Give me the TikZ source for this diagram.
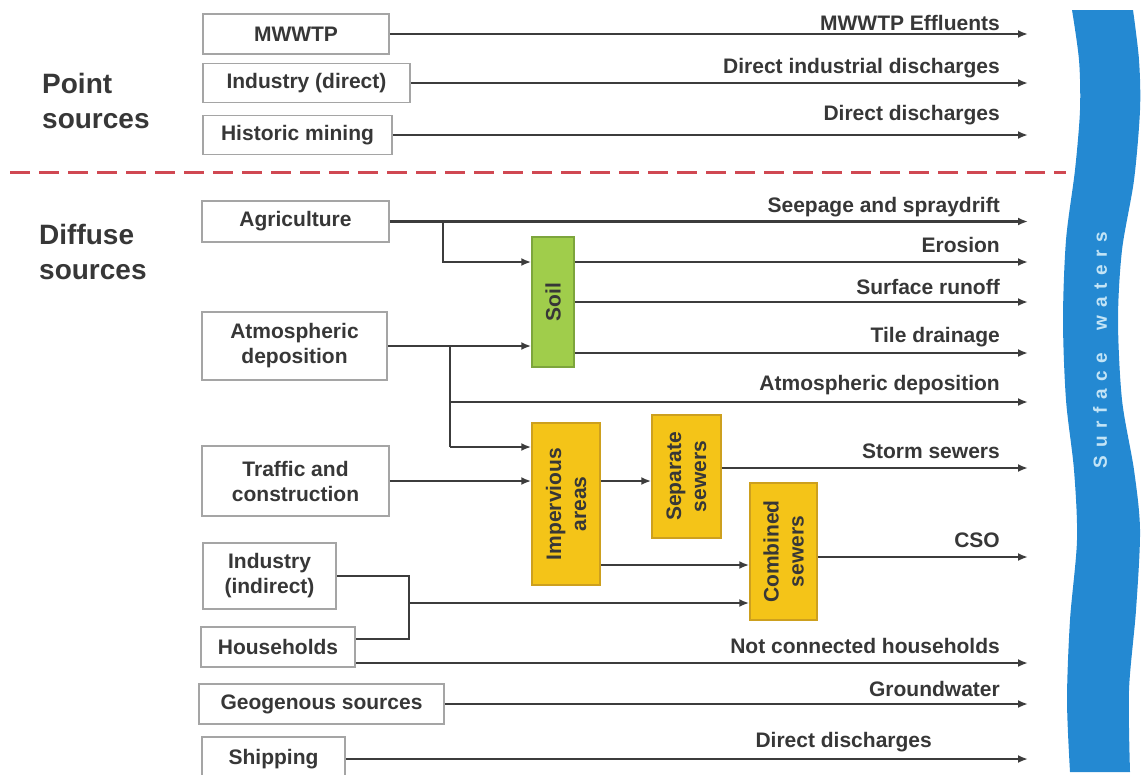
\documentclass[tikz,border=0pt]{standalone}
\usepackage{fontspec}
\setmainfont{Liberation Sans}
\usetikzlibrary{arrows.meta}
\definecolor{txt}{RGB}{55,55,55}
\definecolor{ln}{RGB}{60,60,60}
\definecolor{bx}{RGB}{165,165,165}
\definecolor{soilg}{RGB}{160,205,75}
\definecolor{soilb}{RGB}{125,165,60}
\definecolor{yel}{RGB}{244,196,24}
\definecolor{yelb}{RGB}{205,160,30}
\definecolor{water}{RGB}{36,137,210}
\definecolor{wtxt}{RGB}{195,228,246}
\definecolor{redline}{RGB}{208,72,82}
\begin{document}
\begin{tikzpicture}[x=1pt,y=-1pt,
 every node/.style={text=txt, font=\bfseries\fontsize{21}{25}\selectfont},
 srcbox/.style={draw=bx, line width=1.8pt, fill=white, inner sep=0pt, align=center},
 procbox/.style={draw=#1, line width=1.5pt, inner sep=0pt, align=center, rotate=90},
 conn/.style={draw=ln, line width=2.1pt},
 arr/.style={conn, -{Latex[length=10pt,width=8pt]}},
 lbl/.style={anchor=base east, inner sep=0pt},
 heading/.style={font=\bfseries\fontsize{28}{35}\selectfont, align=left, anchor=west, inner sep=0pt},
]
\useasboundingbox (0,0) rectangle (1147,774);

% surface waters band
\fill[water] plot[smooth] coordinates {(1072,10) (1079,60) (1080,110) (1075,170) (1066,240) (1063,320) (1066,400) (1074,470) (1077,540) (1070,620) (1067,700) (1070,772)}
  -- plot[smooth] coordinates {(1130,772) (1129,690) (1136,610) (1140,530) (1134,470) (1122,400) (1118,320) (1122,250) (1134,180) (1140,110) (1139,60) (1133,10)} -- cycle;
\node[rotate=90, text=wtxt, font=\bfseries\fontsize{19}{21}\selectfont, inner sep=0pt] (sw) at (1100,350)
  {\hbox to 236pt{S\hfill u\hfill r\hfill f\hfill a\hfill c\hfill e\hfill\hfill\hfill w\hfill a\hfill t\hfill e\hfill r\hfill s}};

% headings
\node[heading] (ps) at (42,101) {Point\\sources};
\node[heading] (ds) at (39,252) {Diffuse\\sources};

% dashed separator
\draw[redline, line width=3pt, dash pattern=on 20pt off 9pt] (10,172) -- (1066,172);

% source boxes
\node[srcbox, minimum width=186pt, minimum height=40pt] (mwwtp) at (296,34) {MWWTP};
\node[srcbox, minimum width=207pt, minimum height=39pt] (inddir) at (306.5,83) {Industry (direct)};
\node[srcbox, minimum width=189pt, minimum height=39pt] (mining) at (297.5,135) {Historic mining};
\node[srcbox, minimum width=187pt, minimum height=41pt] (agri) at (295.5,221.5) {Agriculture};
\node[srcbox, minimum width=185pt, minimum height=68pt] (atm) at (294.5,346) {Atmospheric\\deposition};
\node[srcbox, minimum width=187pt, minimum height=70pt] (traffic) at (295.5,481) {Traffic and\\construction};
\node[srcbox, minimum width=133pt, minimum height=66pt] (indind) at (269.5,576) {Industry\\(indirect)};
\node[srcbox, minimum width=154pt, minimum height=40pt] (house) at (278,647) {Households};
\node[srcbox, minimum width=245pt, minimum height=40pt] (geo) at (321.5,704) {Geogenous sources};
\node[srcbox, minimum width=143pt, minimum height=44pt] (ship) at (273.5,759) {Shipping};

% process boxes (rotated: .north = left side, .south = right side)
\node[procbox=soilb, fill=soilg, minimum width=130pt, minimum height=42pt] (soil) at (553,302) {Soil};
\node[procbox=yelb, fill=yel, minimum width=162pt, minimum height=68pt] (imperv) at (566,504) {Impervious\\areas};
\node[procbox=yelb, fill=yel, minimum width=123pt, minimum height=69pt] (sep) at (686.5,476.5) {Separate\\sewers};
\node[procbox=yelb, fill=yel, minimum width=137pt, minimum height=67pt] (comb) at (783.5,551.5) {Combined\\sewers};

% helper coordinates
\coordinate (rx) at (1028,0);
\coordinate (ya) at (443,262);
\coordinate (yt) at (0,353);
\coordinate (bx) at (450,402);
\coordinate (yi) at (450,447);
\coordinate (ys) at (0,468);
\coordinate (yc) at (0,557);
\coordinate (yc1) at (0,565);
\coordinate (bk) at (409,603);
\coordinate (yh1) at (0,639);
\coordinate (yh2) at (0,663);

% point-source arrows
\draw[arr] (mwwtp.east) -- (mwwtp.east -| rx);
\draw[arr] (inddir.east) -- (inddir.east -| rx);
\draw[arr] (mining.east) -- (mining.east -| rx);

% diffuse arrows
\draw[arr] (agri.east) -- (agri.east -| rx);
\draw[arr] (agri.east -| ya) -- (ya) -- (soil.north |- ya);
\draw[arr] (soil.south |- ya) -- (rx |- ya);
\draw[arr] (soil.south) -- (rx |- soil.south);
\draw[arr] (soil.south |- yt) -- (rx |- yt);
\draw[arr] (atm.east) -- (soil.north |- atm.east);
\draw[conn] (atm.east -| bx) -- (yi);
\draw[arr] (bx) -- (rx |- bx);
\draw[arr] (yi) -- (imperv.north |- yi);
\draw[arr] (traffic.east) -- (imperv.north |- traffic.east);
\draw[arr] (imperv.south |- traffic.east) -- (sep.north |- traffic.east);
\draw[arr] (sep.south |- ys) -- (rx |- ys);
\draw[arr] (imperv.south |- yc1) -- (comb.north |- yc1);
\draw[arr] (comb.south |- yc) -- (rx |- yc);
\draw[conn] (indind.east) -| (bk |- yh1) -- (house.east |- yh1);
\draw[arr] (bk) -- (comb.north |- bk);
\draw[arr] (house.east |- yh2) -- (rx |- yh2);
\draw[arr] (geo.east) -- (geo.east -| rx);
\draw[arr] (ship.east) -- (ship.east -| rx);

% labels
\node[lbl] (l1) at (1000,30) {MWWTP Effluents};
\node[lbl] (l2) at (1000,73) {Direct industrial discharges};
\node[lbl] (l3) at (1000,120) {Direct discharges};
\node[lbl] (l4) at (1000,212) {Seepage and spraydrift};
\node[lbl] (l5) at (1000,252) {Erosion};
\node[lbl] (l6) at (1000,294) {Surface runoff};
\node[lbl] (l7) at (1000,342) {Tile drainage};
\node[lbl] (l8) at (1000,390) {Atmospheric deposition};
\node[lbl] (l9) at (1000,458) {Storm sewers};
\node[lbl] (l10) at (1000,547) {CSO};
\node[lbl] (l11) at (1000,653) {Not connected households};
\node[lbl] (l12) at (1000,696) {Groundwater};
\node[lbl] (l13) at (932,747) {Direct discharges};
\end{tikzpicture}
\end{document}
